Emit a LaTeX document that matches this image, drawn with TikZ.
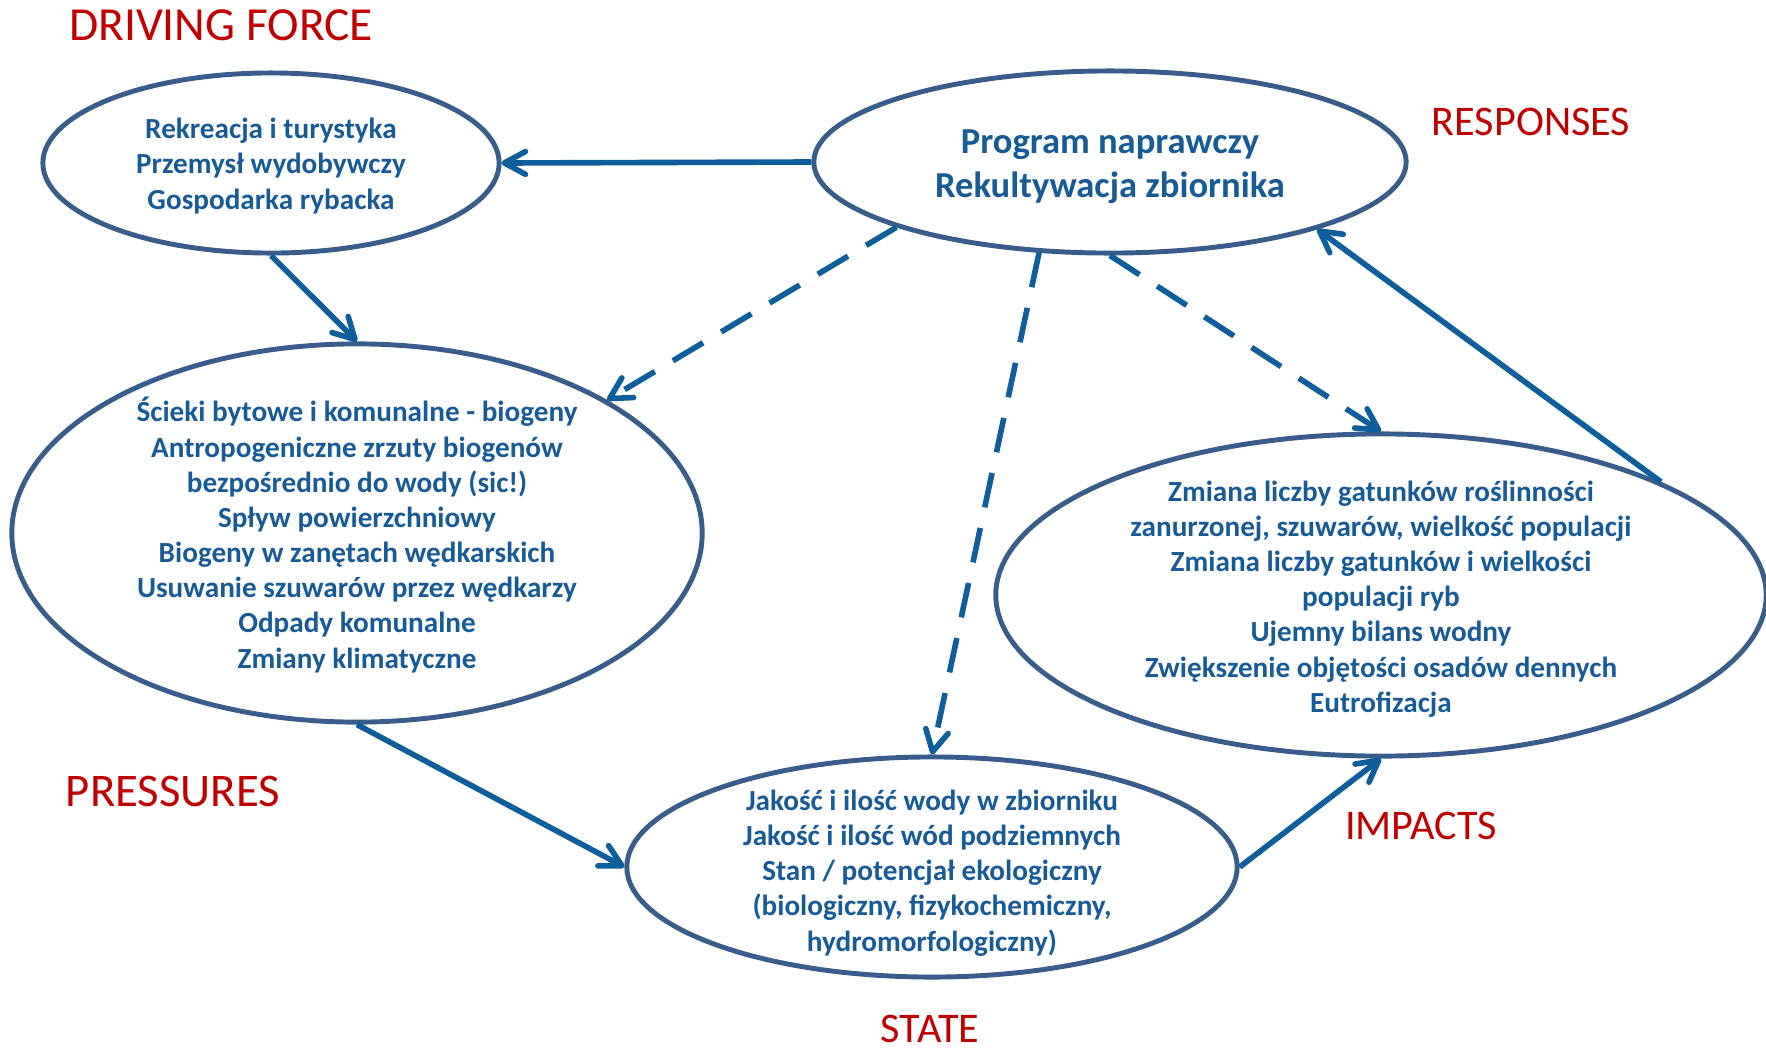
\documentclass[tikz,border=0pt]{standalone}
\usepackage{fontspec}
\setmainfont{Carlito}
\usetikzlibrary{shapes.geometric, arrows.meta}

\definecolor{rimblue}{HTML}{385D8A}
\definecolor{inkblue}{HTML}{165A96}
\definecolor{flowblue}{HTML}{0F5E9C}
\definecolor{stagered}{HTML}{C00000}

\tikzset{
  zone/.style={ellipse, draw=rimblue, line width=1.4pt, inner sep=0pt},
  zonetext/.style={align=center, text=inkblue, font=\bfseries\fontsize{8.3}{10}\selectfont},
  stage/.style={text=stagered, font=\fontsize{12}{14}\selectfont},
  flow/.style={-{Straight Barb[length=6pt,width=6.5pt,round]}, draw=flowblue, line width=1.6pt},
  plan/.style={flow, dash pattern=on 10pt off 6pt},
}

\begin{document}
\begin{tikzpicture}[x=0.01cm, y=-0.01cm]
  \useasboundingbox (0,0) rectangle (1766,1051);

  % ellipses
  \node[zone, minimum width=4.56cm, minimum height=1.80cm] (DF) at (271,163) {};
  \node[zone, minimum width=5.92cm, minimum height=1.82cm] (R) at (1110,162) {};
  \node[zone, minimum width=6.90cm, minimum height=3.78cm] (P) at (357,533) {};
  \node[zone, minimum width=7.70cm, minimum height=3.22cm] (I) at (1381,595) {};
  \node[zone, minimum width=6.10cm, minimum height=2.20cm] (S) at (932,867) {};

  % texts inside
  \node[zonetext] (DFtxt) at (271,166) {Rekreacja i turystyka\\Przemysł wydobywczy\\Gospodarka rybacka};
  \node[zonetext, font=\bfseries\fontsize{10.4}{12.4}\selectfont] (Rtxt) at (1110,167)
    {Program naprawczy\\Rekultywacja zbiornika};
  \node[zonetext] (Ptxt) at (357,535) {Ścieki bytowe i komunalne - biogeny\\
    Antropogeniczne zrzuty biogenów\\bezpośrednio do wody (sic!)\\Spływ powierzchniowy\\
    Biogeny w zanętach wędkarskich\\Usuwanie szuwarów przez wędkarzy\\
    Odpady komunalne\\Zmiany klimatyczne};
  \node[zonetext] (Itxt) at (1381,599) {Zmiana liczby gatunków roślinności\\
    zanurzonej, szuwarów, wielkość populacji\\Zmiana liczby gatunków i wielkości\\
    populacji ryb\\Ujemny bilans wodny\\Zwiększenie objętości osadów dennych\\Eutrofizacja};
  \node[zonetext] (Stxt) at (932,873) {Jakość i ilość wody w zbiorniku\\
    Jakość i ilość wód podziemnych\\Stan / potencjał ekologiczny\\
    (biologiczny, fizykochemiczny,\\hydromorfologiczny)};

  % stage labels
  \node[stage, font=\fontsize{13.5}{15}\selectfont] (driving) at (221,25) {DRIVING FORCE};
  \node[stage] (responses) at (1531,122) {RESPONSES};
  \node[stage, font=\fontsize{13.3}{15}\selectfont] (pressures) at (173,791) {PRESSURES};
  \node[stage] (impacts) at (1421,826) {IMPACTS};
  \node[stage] (state) at (930,1029) {STATE};

  % connectors
  \draw[flow] (R.west) -- (DF.east);
  \draw[flow] (DF.south) -- (P.north);
  \draw[flow] (P.south) -- (S.west);
  \draw[flow] (S.east) -- (I.south);
  \draw[flow] (I.22.3) -- (R.342.7);
  \draw[plan] (R.197.6) -- (P.28.6);
  \draw[plan] (R.232) -- (S.north);
  \draw[plan] (R.south) -- (I.north);
\end{tikzpicture}
\end{document}
